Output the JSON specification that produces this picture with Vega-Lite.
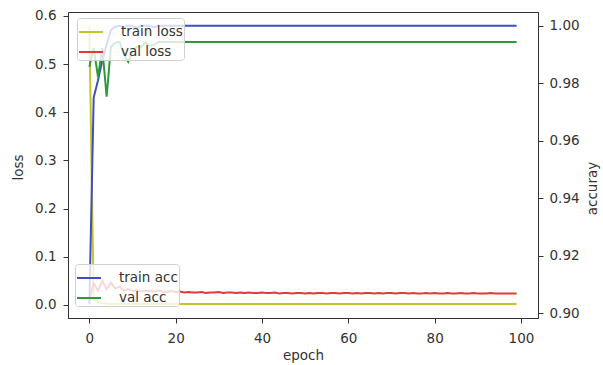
{
  "$schema": "https://vega.github.io/schema/vega-lite/v6.json",
  "width": 470,
  "height": 306,
  "autosize": {"type": "none"},
  "padding": {"left": 68, "top": 12, "right": 65, "bottom": 47},
  "background": "white",
  "config": {
    "font": "DejaVu Sans",
    "view": {"stroke": "#333", "strokeWidth": 1},
    "axis": {
      "grid": false, "domainColor": "#333", "tickColor": "#333", "labelColor": "#333", "titleColor": "#333",
      "labelFontSize": 13.5, "titleFontSize": 13.5, "titleFontWeight": "normal", "tickSize": 5,
      "labelFont": "DejaVu Sans", "titleFont": "DejaVu Sans", "labelPadding": 5
    },
    "legend": {
      "orient": "none", "title": null, "symbolType": "stroke", "symbolSize": 576, "symbolStrokeWidth": 2,
      "labelFontSize": 13.5, "labelFont": "DejaVu Sans", "labelColor": "#333", "labelOffset": 17,
      "padding": 1, "rowPadding": -1, "strokeColor": "#d0d0d0", "fillColor": "rgba(255,255,255,0.8)", "cornerRadius": 3
    }
  },
  "data": {"values": [
    {"epoch":0,"train loss":0.579,"val loss":0.012,"train acc":0.9031,"val acc":0.9857},
    {"epoch":1,"train loss":0.012,"val loss":0.045,"train acc":0.975,"val acc":0.9923},
    {"epoch":2,"train loss":0.006,"val loss":0.030,"train acc":0.981,"val acc":0.9822},
    {"epoch":3,"train loss":0.004,"val loss":0.050,"train acc":0.988,"val acc":0.9923},
    {"epoch":4,"train loss":0.003,"val loss":0.033,"train acc":0.9935,"val acc":0.9753},
    {"epoch":5,"train loss":0.002,"val loss":0.046,"train acc":0.9986,"val acc":0.9927},
    {"epoch":6,"train loss":0.002,"val loss":0.034,"train acc":0.9997,"val acc":0.9941},
    {"epoch":7,"train loss":0.002,"val loss":0.038,"train acc":1.0,"val acc":0.9944},
    {"epoch":8,"train loss":0.002,"val loss":0.030,"train acc":0.9995,"val acc":0.990},
    {"epoch":9,"train loss":0.002,"val loss":0.033,"train acc":1.0,"val acc":0.9875},
    {"epoch":10,"train loss":0.002,"val loss":0.029,"train acc":1.0,"val acc":0.991},
    {"epoch":11,"train loss":0.002,"val loss":0.031,"train acc":0.9993,"val acc":0.9927},
    {"epoch":12,"train loss":0.002,"val loss":0.028,"train acc":1.0,"val acc":0.9927},
    {"epoch":13,"train loss":0.002,"val loss":0.030,"train acc":1.0,"val acc":0.9941},
    {"epoch":14,"train loss":0.002,"val loss":0.029,"train acc":1.0,"val acc":0.993},
    {"epoch":15,"train loss":0.002,"val loss":0.028,"train acc":0.9994,"val acc":0.9934},
    {"epoch":16,"train loss":0.002,"val loss":0.030,"train acc":1.0,"val acc":0.9944},
    {"epoch":17,"train loss":0.002,"val loss":0.028,"train acc":1.0,"val acc":0.9944},
    {"epoch":18,"train loss":0.002,"val loss":0.027,"train acc":1.0,"val acc":0.9944},
    {"epoch":19,"train loss":0.002,"val loss":0.029,"train acc":1.0,"val acc":0.9944},
    {"epoch":20,"train loss":0.002,"val loss":0.027,"train acc":1.0,"val acc":0.9944},
    {"epoch":21,"train loss":0.002,"val loss":0.028,"train acc":1.0,"val acc":0.9944},
    {"epoch":22,"train loss":0.002,"val loss":0.026,"train acc":1.0,"val acc":0.9944},
    {"epoch":23,"train loss":0.002,"val loss":0.027,"train acc":1.0,"val acc":0.9944},
    {"epoch":24,"train loss":0.002,"val loss":0.026,"train acc":1.0,"val acc":0.9944},
    {"epoch":25,"train loss":0.002,"val loss":0.026,"train acc":1.0,"val acc":0.9944},
    {"epoch":26,"train loss":0.002,"val loss":0.027,"train acc":1.0,"val acc":0.9944},
    {"epoch":27,"train loss":0.002,"val loss":0.025,"train acc":1.0,"val acc":0.9944},
    {"epoch":28,"train loss":0.002,"val loss":0.026,"train acc":1.0,"val acc":0.9944},
    {"epoch":29,"train loss":0.002,"val loss":0.026,"train acc":1.0,"val acc":0.9944},
    {"epoch":30,"train loss":0.002,"val loss":0.027,"train acc":1.0,"val acc":0.9944},
    {"epoch":31,"train loss":0.002,"val loss":0.025,"train acc":1.0,"val acc":0.9944},
    {"epoch":32,"train loss":0.002,"val loss":0.026,"train acc":1.0,"val acc":0.9944},
    {"epoch":33,"train loss":0.002,"val loss":0.026,"train acc":1.0,"val acc":0.9944},
    {"epoch":34,"train loss":0.002,"val loss":0.025,"train acc":1.0,"val acc":0.9944},
    {"epoch":35,"train loss":0.002,"val loss":0.026,"train acc":1.0,"val acc":0.9944},
    {"epoch":36,"train loss":0.002,"val loss":0.025,"train acc":1.0,"val acc":0.9944},
    {"epoch":37,"train loss":0.002,"val loss":0.026,"train acc":1.0,"val acc":0.9944},
    {"epoch":38,"train loss":0.002,"val loss":0.025,"train acc":1.0,"val acc":0.9944},
    {"epoch":39,"train loss":0.002,"val loss":0.025,"train acc":1.0,"val acc":0.9944},
    {"epoch":40,"train loss":0.002,"val loss":0.026,"train acc":1.0,"val acc":0.9944},
    {"epoch":41,"train loss":0.002,"val loss":0.025,"train acc":1.0,"val acc":0.9944},
    {"epoch":42,"train loss":0.002,"val loss":0.025,"train acc":1.0,"val acc":0.9944},
    {"epoch":43,"train loss":0.002,"val loss":0.026,"train acc":1.0,"val acc":0.9944},
    {"epoch":44,"train loss":0.002,"val loss":0.024,"train acc":1.0,"val acc":0.9944},
    {"epoch":45,"train loss":0.002,"val loss":0.025,"train acc":1.0,"val acc":0.9944},
    {"epoch":46,"train loss":0.002,"val loss":0.025,"train acc":1.0,"val acc":0.9944},
    {"epoch":47,"train loss":0.002,"val loss":0.024,"train acc":1.0,"val acc":0.9944},
    {"epoch":48,"train loss":0.002,"val loss":0.025,"train acc":1.0,"val acc":0.9944},
    {"epoch":49,"train loss":0.002,"val loss":0.025,"train acc":1.0,"val acc":0.9944},
    {"epoch":50,"train loss":0.002,"val loss":0.024,"train acc":1.0,"val acc":0.9944},
    {"epoch":51,"train loss":0.002,"val loss":0.025,"train acc":1.0,"val acc":0.9944},
    {"epoch":52,"train loss":0.002,"val loss":0.024,"train acc":1.0,"val acc":0.9944},
    {"epoch":53,"train loss":0.002,"val loss":0.025,"train acc":1.0,"val acc":0.9944},
    {"epoch":54,"train loss":0.002,"val loss":0.025,"train acc":1.0,"val acc":0.9944},
    {"epoch":55,"train loss":0.002,"val loss":0.024,"train acc":1.0,"val acc":0.9944},
    {"epoch":56,"train loss":0.002,"val loss":0.025,"train acc":1.0,"val acc":0.9944},
    {"epoch":57,"train loss":0.002,"val loss":0.025,"train acc":1.0,"val acc":0.9944},
    {"epoch":58,"train loss":0.002,"val loss":0.024,"train acc":1.0,"val acc":0.9944},
    {"epoch":59,"train loss":0.002,"val loss":0.025,"train acc":1.0,"val acc":0.9944},
    {"epoch":60,"train loss":0.002,"val loss":0.025,"train acc":1.0,"val acc":0.9944},
    {"epoch":61,"train loss":0.002,"val loss":0.024,"train acc":1.0,"val acc":0.9944},
    {"epoch":62,"train loss":0.002,"val loss":0.025,"train acc":1.0,"val acc":0.9944},
    {"epoch":63,"train loss":0.002,"val loss":0.024,"train acc":1.0,"val acc":0.9944},
    {"epoch":64,"train loss":0.002,"val loss":0.025,"train acc":1.0,"val acc":0.9944},
    {"epoch":65,"train loss":0.002,"val loss":0.025,"train acc":1.0,"val acc":0.9944},
    {"epoch":66,"train loss":0.002,"val loss":0.024,"train acc":1.0,"val acc":0.9944},
    {"epoch":67,"train loss":0.002,"val loss":0.025,"train acc":1.0,"val acc":0.9944},
    {"epoch":68,"train loss":0.002,"val loss":0.024,"train acc":1.0,"val acc":0.9944},
    {"epoch":69,"train loss":0.002,"val loss":0.025,"train acc":1.0,"val acc":0.9944},
    {"epoch":70,"train loss":0.002,"val loss":0.025,"train acc":1.0,"val acc":0.9944},
    {"epoch":71,"train loss":0.002,"val loss":0.024,"train acc":1.0,"val acc":0.9944},
    {"epoch":72,"train loss":0.002,"val loss":0.025,"train acc":1.0,"val acc":0.9944},
    {"epoch":73,"train loss":0.002,"val loss":0.025,"train acc":1.0,"val acc":0.9944},
    {"epoch":74,"train loss":0.002,"val loss":0.024,"train acc":1.0,"val acc":0.9944},
    {"epoch":75,"train loss":0.002,"val loss":0.025,"train acc":1.0,"val acc":0.9944},
    {"epoch":76,"train loss":0.002,"val loss":0.024,"train acc":1.0,"val acc":0.9944},
    {"epoch":77,"train loss":0.002,"val loss":0.024,"train acc":1.0,"val acc":0.9944},
    {"epoch":78,"train loss":0.002,"val loss":0.025,"train acc":1.0,"val acc":0.9944},
    {"epoch":79,"train loss":0.002,"val loss":0.024,"train acc":1.0,"val acc":0.9944},
    {"epoch":80,"train loss":0.002,"val loss":0.025,"train acc":1.0,"val acc":0.9944},
    {"epoch":81,"train loss":0.002,"val loss":0.024,"train acc":1.0,"val acc":0.9944},
    {"epoch":82,"train loss":0.002,"val loss":0.024,"train acc":1.0,"val acc":0.9944},
    {"epoch":83,"train loss":0.002,"val loss":0.025,"train acc":1.0,"val acc":0.9944},
    {"epoch":84,"train loss":0.002,"val loss":0.024,"train acc":1.0,"val acc":0.9944},
    {"epoch":85,"train loss":0.002,"val loss":0.024,"train acc":1.0,"val acc":0.9944},
    {"epoch":86,"train loss":0.002,"val loss":0.025,"train acc":1.0,"val acc":0.9944},
    {"epoch":87,"train loss":0.002,"val loss":0.024,"train acc":1.0,"val acc":0.9944},
    {"epoch":88,"train loss":0.002,"val loss":0.024,"train acc":1.0,"val acc":0.9944},
    {"epoch":89,"train loss":0.002,"val loss":0.025,"train acc":1.0,"val acc":0.9944},
    {"epoch":90,"train loss":0.002,"val loss":0.024,"train acc":1.0,"val acc":0.9944},
    {"epoch":91,"train loss":0.002,"val loss":0.024,"train acc":1.0,"val acc":0.9944},
    {"epoch":92,"train loss":0.002,"val loss":0.024,"train acc":1.0,"val acc":0.9944},
    {"epoch":93,"train loss":0.002,"val loss":0.025,"train acc":1.0,"val acc":0.9944},
    {"epoch":94,"train loss":0.002,"val loss":0.024,"train acc":1.0,"val acc":0.9944},
    {"epoch":95,"train loss":0.002,"val loss":0.024,"train acc":1.0,"val acc":0.9944},
    {"epoch":96,"train loss":0.002,"val loss":0.024,"train acc":1.0,"val acc":0.9944},
    {"epoch":97,"train loss":0.002,"val loss":0.024,"train acc":1.0,"val acc":0.9944},
    {"epoch":98,"train loss":0.002,"val loss":0.024,"train acc":1.0,"val acc":0.9944},
    {"epoch":99,"train loss":0.002,"val loss":0.024,"train acc":1.0,"val acc":0.9944}
  ]},
  "encoding": {
    "x": {
      "field": "epoch", "type": "quantitative",
      "scale": {"domain": [-4.95, 103.95], "nice": false, "zero": false},
      "axis": {"values": [0, 20, 40, 60, 80, 100], "format": "d", "title": "epoch", "labelFlush": false,
               "labelPadding": 8, "titleY": 37, "titleBaseline": "middle"}
    }
  },
  "layer": [
    {
      "transform": [{"fold": ["train loss", "val loss"], "as": ["series", "loss"]}],
      "mark": {"type": "line", "strokeWidth": 2, "clip": true},
      "encoding": {
        "y": {
          "field": "loss", "type": "quantitative",
          "scale": {"domain": [-0.027, 0.6083], "nice": false, "zero": false},
          "axis": {"orient": "left", "values": [0, 0.1, 0.2, 0.3, 0.4, 0.5, 0.6], "format": ".1f", "title": "loss",
                   "labelPadding": 7, "titleX": -50, "titleY": 155, "titleAngle": 270, "titleAlign": "center", "titleBaseline": "middle"}
        },
        "color": {
          "field": "series", "type": "nominal",
          "scale": {"domain": ["train loss", "val loss"], "range": ["#c4c42c", "#e03a3a"]},
          "legend": {"legendX": 9, "legendY": 6, "zindex": -1}
        }
      }
    },
    {
      "transform": [{"fold": ["train acc", "val acc"], "as": ["series2", "acc"]}],
      "mark": {"type": "line", "strokeWidth": 2, "clip": true},
      "encoding": {
        "y": {
          "field": "acc", "type": "quantitative",
          "scale": {"domain": [0.8983, 1.0048], "nice": false, "zero": false},
          "axis": {"orient": "right", "values": [0.9, 0.92, 0.94, 0.96, 0.98, 1.0], "format": ".2f", "title": "accuray",
                   "labelPadding": 6, "titleX": 54, "titleY": 176, "titleAngle": 270, "titleAlign": "center", "titleBaseline": "middle"}
        },
        "color": {
          "field": "series2", "type": "nominal",
          "scale": {"domain": ["train acc", "val acc"], "range": ["#3f4fbf", "#2e9a3a"]},
          "legend": {"legendX": 7, "legendY": 252}
        }
      }
    }
  ],
  "resolve": {"scale": {"y": "independent", "color": "independent"}}
}
